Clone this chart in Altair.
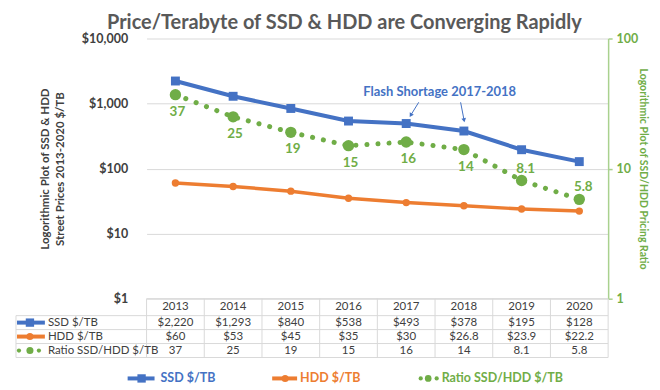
import altair as alt
import pandas as pd

# ---------------- data ----------------
years = [2013, 2014, 2015, 2016, 2017, 2018, 2019, 2020]
ssd = [2220, 1293, 840, 538, 493, 378, 195, 128]
hdd = [60, 53, 45, 35, 30, 26.8, 23.9, 22.2]
ratio = [37, 25, 19, 15, 16, 14, 8.1, 5.8]
series_names = ["SSD $/TB", "HDD $/TB", "Ratio SSD/HDD $/TB"]
left_ticks = [1, 10, 100, 1000, 10000]
right_ticks = [1, 10, 100]
title_text = "Price/Terabyte of SSD & HDD are Converging Rapidly"
left_title = ["Logorithmic Plot of SSD & HDD", "Street Prices 2013-2020 $/TB"]
right_title = "Logorithmic Plot of SSD/HDD Pricing Ratio"
note_text = "Flash Shortage 2017-2018"

# ---------------- style ----------------
BLUE, ORANGE, GREEN = "#4472C4", "#ED7D31", "#70AD47"
GRID = "#d9d9d9"
DARK = "#404040"
FONT = "Lato"
W, H = 463, 261
X0, X1 = 2012.5, 2020.5
ORIGIN_X, TOP_Y = 147, 39


def px(p):
    """page pixel x -> data x (for layout of annotation / table decorations)"""
    return X0 + (p - ORIGIN_X) / W * (X1 - X0)


def pyl(p):
    """page pixel y -> left log-scale value"""
    return 10 ** ((TOP_Y + H - p) / H * 4)


df = pd.DataFrame({"year": years, "ssd": ssd, "hdd": hdd, "ratio": ratio,
                   "ratio_s": [f"{v:g}" for v in ratio]})

xscale = alt.Scale(domain=[X0, X1], nice=False, zero=False)


def X(f="year"):
    return alt.X(f"{f}:Q", scale=xscale, axis=None)


yl_scale = alt.Scale(type="log", domain=[1, 10000], nice=False)
left_axis = alt.Axis(values=left_ticks, labelExpr="'$' + format(datum.value, ',')",
                     grid=True, gridColor=GRID, domain=False, ticks=False, tickSize=0,
                     labelPadding=19, labelFont=FONT, labelFontSize=12.5,
                     labelFontWeight="bold", labelColor=DARK,
                     title=left_title, titleFont=FONT, titleFontSize=11.5,
                     titleFontWeight="bold", titleColor=DARK, titlePadding=16,
                     titleLineHeight=15)


def YL(f):
    return alt.Y(f"{f}:Q", scale=yl_scale, axis=left_axis)


yr_scale = alt.Scale(type="log", domain=[1, 100], nice=False)
right_axis = alt.Axis(orient="right", values=right_ticks, format="d", grid=False,
                      domain=True, domainColor="#a9d18e", domainWidth=1.5,
                      ticks=True, tickColor="#a9d18e", tickSize=4, tickWidth=1.5,
                      labelPadding=4, labelFont=FONT, labelFontSize=12.5,
                      labelFontWeight="bold", labelColor=GREEN,
                      title=right_title, titleFont=FONT, titleFontSize=10.5,
                      titleFontWeight="bold", titleColor=GREEN, titlePadding=0)


def YR(f):
    return alt.Y(f"{f}:Q", scale=yr_scale, axis=right_axis)


base = alt.Chart(df)
ssd_line = base.mark_line(color=BLUE, strokeWidth=4).encode(x=X(), y=YL("ssd"))
ssd_pts = base.mark_square(color=BLUE, size=80, opacity=1).encode(x=X(), y=YL("ssd"))
hdd_line = base.mark_line(color=ORANGE, strokeWidth=3.5).encode(x=X(), y=YL("hdd"))
hdd_pts = base.mark_circle(color=ORANGE, size=55, opacity=1).encode(x=X(), y=YL("hdd"))

note = alt.Chart(pd.DataFrame({"x": [px(441)], "y": [pyl(93)], "t": [note_text]})).mark_text(
    color=BLUE, font=FONT, fontSize=13, fontWeight="bold").encode(x=X("x"), y=YL("y"), text="t:N")

arrows = pd.DataFrame({
    "x": [px(420), px(462)], "x2": [px(412), px(465.5)],
    "y": [pyl(103), pyl(103)], "y2": [pyl(116), pyl(121)],
    "ang": [31, 349],
})
arrow_lines = alt.Chart(arrows).mark_rule(color=BLUE, strokeWidth=1).encode(
    x=X("x"), x2="x2:Q", y=YL("y"), y2="y2:Q")
arrow_heads = alt.Chart(arrows).mark_point(shape="triangle-down", filled=True, size=22,
                                           color=BLUE, opacity=1).encode(
    x=X("x2"), y=YL("y2"), angle=alt.Angle("ang:Q", scale=None))

left_layer = alt.layer(ssd_line, hdd_line, ssd_pts, hdd_pts, arrow_lines, arrow_heads, note)

ratio_line = base.mark_line(color=GREEN, strokeWidth=5, strokeDash=[0.1, 11],
                            strokeCap="round").encode(x=X(), y=YR("ratio"))
ratio_pts = base.mark_circle(color=GREEN, size=130, opacity=1).encode(x=X(), y=YR("ratio"))
lbl_below = base.mark_text(color=GREEN, font=FONT, fontSize=13.5, fontWeight="bold",
                           dy=17, dx=2).encode(x=X(), y=YR("ratio"), text="ratio_s:N"
                                                ).transform_filter("datum.year <= 2018")
lbl_above = base.mark_text(color=GREEN, font=FONT, fontSize=13.5, fontWeight="bold",
                           dy=-12, dx=4).encode(x=X(), y=YR("ratio"), text="ratio_s:N"
                                                ).transform_filter("datum.year >= 2019")
right_layer = alt.layer(ratio_line, ratio_pts, lbl_below, lbl_above)

top = alt.layer(left_layer, right_layer).resolve_scale(y="independent").properties(
    width=W, height=H)

# ---------------- data table + legend ----------------
ROW = 14.0            # px per table row unit
HEAD = 17 / ROW       # header row is a bit taller
TH = 88
ty_scale = alt.Scale(domain=[0, TH / ROW], reverse=True, nice=False, zero=False)


def TY(f="row"):
    return alt.Y(f"{f}:Q", scale=ty_scale, axis=None)


r_head = HEAD / 2
r_rows = [HEAD + 0.5, HEAD + 1.5, HEAD + 2.5]
LEG = 80 / ROW

cells = []
for y in years:
    cells.append({"year": y, "row": r_head, "t": str(y)})
for i, y in enumerate(years):
    cells.append({"year": y, "row": r_rows[0], "t": f"${ssd[i]:,g}"})
    cells.append({"year": y, "row": r_rows[1], "t": f"${hdd[i]:,g}"})
    cells.append({"year": y, "row": r_rows[2], "t": f"{ratio[i]:g}"})
cell_text = alt.Chart(pd.DataFrame(cells)).mark_text(
    font=FONT, fontSize=11.5, color=DARK).encode(x=X(), y=TY(), text="t:N")

row_lbls = alt.Chart(pd.DataFrame({"x": [px(48)] * 3, "row": r_rows,
                                   "t": series_names})).mark_text(
    font=FONT, fontSize=11.5, color=DARK, align="left").encode(x=X("x"), y=TY(), text="t:N")

tbl_left = px(16)
bounds_rows = [0, HEAD, HEAD + 1, HEAD + 2, HEAD + 3]
hl = pd.DataFrame({"x": [X0] + [tbl_left] * 4, "x2": [X1] * 5, "row": bounds_rows})
h_rules = alt.Chart(hl).mark_rule(color=GRID, strokeWidth=1).encode(
    x=X("x"), x2="x2:Q", y=TY())
vl = pd.DataFrame({"x": [tbl_left] + [X0 + k for k in range(9)],
                   "row": [HEAD] + [0] * 9, "row2": [HEAD + 3] * 10})
v_rules = alt.Chart(vl).mark_rule(color=GRID, strokeWidth=1).encode(
    x=X("x"), y=TY(), y2="row2:Q")

# legend-style symbols (in the table row headers and the bottom legend)
sym_lines = pd.DataFrame({
    "x": [px(17), px(17), px(128), px(273)],
    "x2": [px(45), px(45), px(155), px(298)],
    "row": [r_rows[0], r_rows[1], LEG, LEG],
    "s": ["SSD", "HDD", "SSD", "HDD"],
})
col_scale = alt.Scale(domain=["SSD", "HDD", "Ratio"], range=[BLUE, ORANGE, GREEN])
sym_rule = alt.Chart(sym_lines).mark_rule(strokeWidth=4).encode(
    x=X("x"), x2="x2:Q", y=TY(), color=alt.Color("s:N", scale=col_scale, legend=None))
sq = alt.Chart(pd.DataFrame({"x": [px(30), px(142)], "row": [r_rows[0], LEG]})).mark_square(
    color=BLUE, size=70, opacity=1).encode(x=X("x"), y=TY())
ci = alt.Chart(pd.DataFrame({"x": [px(30), px(286)], "row": [r_rows[1], LEG]})).mark_circle(
    color=ORANGE, size=50, opacity=1).encode(x=X("x"), y=TY())
dots = alt.Chart(pd.DataFrame({
    "x": [px(19), px(30), px(39), px(422), px(429.5), px(438)],
    "row": [r_rows[2]] * 3 + [LEG] * 3,
    "sz": [18, 50, 18, 18, 45, 18]})).mark_circle(color=GREEN, opacity=1).encode(
    x=X("x"), y=TY(), size=alt.Size("sz:Q", scale=None))

leg_text = alt.Chart(pd.DataFrame({
    "x": [px(161), px(301), px(443)], "row": [LEG] * 3, "t": series_names,
    "s": ["SSD", "HDD", "Ratio"]})).mark_text(
    font=FONT, fontSize=12.5, fontWeight="bold", align="left").encode(
    x=X("x"), y=TY(), text="t:N", color=alt.Color("s:N", scale=col_scale, legend=None))

table = alt.layer(h_rules, v_rules, cell_text, row_lbls, sym_rule, sq, ci, dots,
                  leg_text).properties(width=W, height=TH)

chart = alt.vconcat(top, table, spacing=0, bounds="flush").properties(
    title=alt.TitleParams(title_text, font=FONT, fontSize=20, fontWeight="bold",
                          color="#595959", anchor="middle", dx=13, offset=0),
    padding={"left": 6, "top": 4, "right": 4, "bottom": 0},
).configure_view(stroke=None)

chart.save("out.html", embed_options={"renderer": "svg", "actions": False})
